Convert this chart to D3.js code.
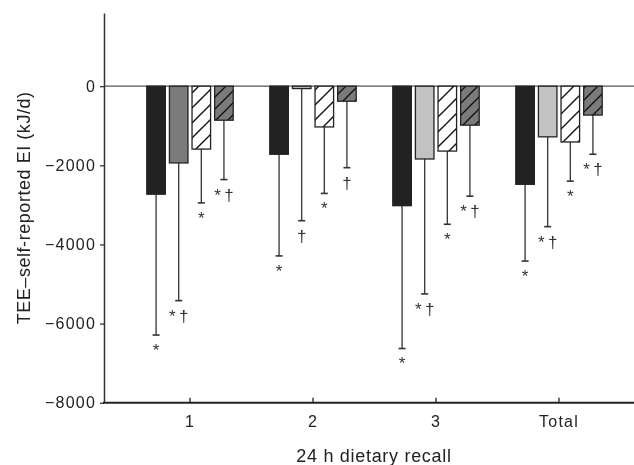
<!DOCTYPE html>
<html>
<head>
<meta charset="utf-8">
<script src="https://cdn.jsdelivr.net/npm/d3@7/dist/d3.min.js"></script>
<style>
  body { margin: 0; background: #fff; }
  svg { display: block; font-family: "Liberation Sans", Arial, sans-serif; will-change: transform; }
</style>
</head>
<body>
<svg width="634" height="465"></svg>
<script>
// Recall groups and the four bar series (means and lower error ends, kJ/d)
const groups = ["1", "2", "3", "Total"];
const seriesKeys = ["s1", "s2", "s3", "s4"];
const means = {
  s1: [-2730, -1720, -3020, -2480],
  s2: [-1940, -60, -1840, -1280],
  s3: [-1590, -1030, -1640, -1410],
  s4: [-860, -380, -985, -730]
};
const lowerErr = {
  s1: [-6290, -4290, -6630, -4420],
  s2: [-5420, -3400, -5250, -3550],
  s3: [-2950, -2710, -3490, -2400],
  s4: [-2360, -2060, -2780, -1720]
};
const marks = {
  s1: ["*", "*", "*", "*"],
  s2: ["*\u2009\u2020", "\u2020", "*\u2009\u2020", "*\u2009\u2020"],
  s3: ["*", "*", "*", "*"],
  s4: ["*\u2009\u2020", "\u2020", "*\u2009\u2020", "*\u2009\u2020"]
};
const yTicks = [0, -2000, -4000, -6000, -8000];

const svg = d3.select("svg");
const axisLeftX = 104, axisRightX = 634;

// Scales
let y = d3.scaleLinear()
  .domain([-8000, 1850])
  .range([402.7, 13]);
let x = d3.scaleBand()
  .domain(groups)
  .range([128.5, 620.5])
  .padding(0);
let xInner = d3.scaleBand()
  .domain(seriesKeys)
  .range([-43.2, 43.2])
  .paddingInner(0.18)
  .paddingOuter(0);

// Hatch patterns
const defs = svg.append("defs");
function hatch(id, bg, size) {
  const p = defs.append("pattern")
    .attr("id", id)
    .attr("patternUnits", "userSpaceOnUse")
    .attr("width", size).attr("height", size);
  p.append("rect").attr("width", size).attr("height", size).attr("fill", bg);
  p.append("path")
    .attr("d", `M0,${size} L${size},0 M${-size / 2},${size / 2} L${size / 2},${-size / 2} M${size / 2},${size * 1.5} L${size * 1.5},${size / 2}`)
    .attr("stroke", "#111").attr("stroke-width", 1.4);
}
hatch("hatchWhite", "#fff", 15);
hatch("hatchGray", "#7b7b7b", 12);

// fill per series; series 2 is darker in the first group
function fillFor(key, gi) {
  if (key === "s1") return "#222";
  if (key === "s2") return gi === 0 ? "#7b7b7b" : "#c2c2c2";
  if (key === "s3") return "url(#hatchWhite)";
  return "url(#hatchGray)";
}

// zero line
svg.append("line")
  .attr("x1", axisLeftX).attr("x2", axisRightX)
  .attr("y1", y(0)).attr("y2", y(0))
  .attr("stroke", "#555").attr("stroke-width", 1.2);

// bars, error bars, significance marks
const g = svg.append("g");
groups.forEach((grp, gi) => {
  const cx = x(grp) + x.bandwidth() / 2;
  seriesKeys.forEach(key => {
    const bx = cx + xInner(key);
    const bw = xInner.bandwidth();
    const mid = bx + bw / 2;
    const v = means[key][gi];
    const e = lowerErr[key][gi];
    g.append("line")
      .attr("x1", mid).attr("x2", mid)
      .attr("y1", y(v)).attr("y2", y(e))
      .attr("stroke", "#333").attr("stroke-width", 1.3);
    g.append("line")
      .attr("x1", mid - 3.5).attr("x2", mid + 3.5)
      .attr("y1", y(e)).attr("y2", y(e))
      .attr("stroke", "#333").attr("stroke-width", 1.6);
    g.append("rect")
      .attr("x", bx).attr("y", y(0))
      .attr("width", bw).attr("height", y(v) - y(0))
      .attr("fill", fillFor(key, gi))
      .attr("stroke", "#222").attr("stroke-width", 1.3);
    g.append("text")
      .attr("x", mid).attr("y", y(e) + 21)
      .attr("text-anchor", "middle")
      .attr("font-size", "17px")
      .attr("fill", "#333")
      .text(marks[key][gi]);
  });
});

// y axis
const yAxis = svg.append("g")
  .attr("transform", `translate(${axisLeftX},0)`)
  .call(d3.axisLeft(y).tickValues(yTicks).tickFormat(d3.format("d"))
    .tickSize(4).tickSizeOuter(0).tickPadding(4));
yAxis.select(".domain").attr("stroke", "#333").attr("stroke-width", 1.5);
yAxis.selectAll(".tick line").attr("stroke", "#333").attr("stroke-width", 1.3);
yAxis.selectAll(".tick text").attr("font-size", "16px").attr("fill", "#222")
  .attr("letter-spacing", "1.2px")
  .attr("font-family", "Liberation Sans, Arial, sans-serif");

// x axis: line across, ticks pointing up
svg.append("line")
  .attr("x1", axisLeftX - 1).attr("x2", axisRightX)
  .attr("y1", y(-8000)).attr("y2", y(-8000))
  .attr("stroke", "#222").attr("stroke-width", 2);
const xAxis = svg.append("g")
  .attr("transform", `translate(0,${y(-8000)})`)
  .call(d3.axisBottom(x).tickSizeInner(-5).tickSizeOuter(0).tickPadding(12.6));
xAxis.select(".domain").remove();
xAxis.selectAll(".tick line").attr("stroke", "#222").attr("stroke-width", 1.3);
xAxis.selectAll(".tick text").attr("font-size", "16px").attr("fill", "#222")
  .attr("letter-spacing", "1.2px")
  .attr("font-family", "Liberation Sans, Arial, sans-serif");

// axis titles
svg.append("text")
  .attr("x", 374).attr("y", 462)
  .attr("text-anchor", "middle")
  .attr("font-size", "18px")
  .attr("letter-spacing", "0.7px")
  .attr("fill", "#222")
  .text("24 h dietary recall");
svg.append("text")
  .attr("transform", `translate(30,${(y(1850) + y(-8000)) / 2}) rotate(-90)`)
  .attr("text-anchor", "middle")
  .attr("font-size", "18px")
  .attr("letter-spacing", "0.55px")
  .attr("fill", "#222")
  .text("TEE\u2013self-reported EI (kJ/d)");
</script>
</body>
</html>
